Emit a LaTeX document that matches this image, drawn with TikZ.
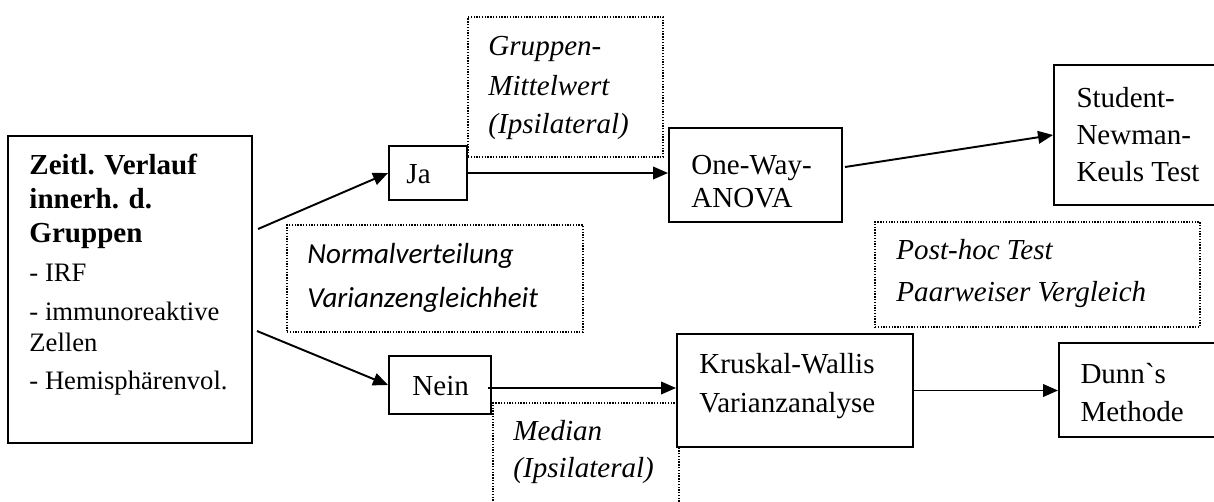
\documentclass[tikz,border=0pt]{standalone}
\usepackage{fontspec}
\setmainfont{Liberation Serif}
\newfontfamily\carl{Carlito}
\usetikzlibrary{fit,arrows.meta}
\begin{document}
\begin{tikzpicture}[x=0.4133pt,y=-0.4133pt,
  solidbox/.style={draw, line width=0.8pt, fill=white, inner sep=0pt},
  dotbox/.style={draw, line width=0.55pt, dash pattern=on 0.55pt off 0.6pt, inner sep=0pt},
  conn/.style={line width=0.8pt, -{Triangle[length=6.2pt,width=5.2pt]}},
  t/.style={anchor=base west, inner sep=0pt, font=\fontsize{12}{14}\selectfont},
  ts/.style={t, font=\fontsize{11}{13}\selectfont},
  ti/.style={t, font=\fontsize{12}{14}\selectfont\itshape},
  tc/.style={t, font=\fontsize{12}{14}\selectfont\carl\itshape},
  tb/.style={t, font=\fontsize{12}{14}\selectfont\bfseries}]
\useasboundingbox (0,0) rectangle (1214,501);
\clip (0,0) rectangle (1214,501);
% dotted boxes
\node[dotbox, fit={(468,17) (663,157)}] (dG) {};
\node[dotbox, fit={(287,225) (583,332)}] (dN) {};
\node[dotbox, fit={(875,222) (1200,327)}] (dP) {};
\node[dotbox, fit={(493,403) (679,530)}] (dM) {};
% solid boxes
\node[solidbox, fit={(8,136) (252,443)}] (L) {};
\node[solidbox, fit={(389,146) (467,200)}] (Ja) {};
\node[solidbox, fit={(389,356) (491,414)}] (Nein) {};
\node[solidbox, fit={(669,128) (842,222)}] (OW) {};
\node[solidbox, fit={(1054,65) (1240,205)}] (SNK) {};
\node[solidbox, fit={(677,334) (913,447)}] (KW) {};
\node[solidbox, fit={(1059,343) (1240,437)}] (DM) {};
% texts
\node[tb] (l1) at (29,174) {Zeitl. Verlauf};
\node[tb] (l2) at (29,208) {innerh. d.};
\node[tb] (l3) at (29,242) {Gruppen};
\node[ts] (l4) at (29,281) {- IRF};
\node[ts] (l5) at (29,320) {- immunoreaktive};
\node[ts] (l6) at (29,351) {Zellen};
\node[ts] (l7) at (29,389) {- Hemisphärenvol.};
\node[t] (ja) at (406,183) {Ja};
\node[t] (nein) at (412,395) {Nein};
\node[ti] (g1) at (488,55) {Gruppen-};
\node[ti] (g2) at (488,95) {Mittelwert};
\node[ti] (g3) at (488,133) {(Ipsilateral)};
\node[t] (o1) at (691,174) {One-Way-};
\node[t] (o2) at (691,207) {ANOVA};
\node[t] (s1t) at (1076,107) {Student-};
\node[t] (s2t) at (1076,144) {Newman-};
\node[t] (s3t) at (1076,181) {Keuls Test};
\node[tc] (n1) at (307,263) {Normalverteilung};
\node[tc] (n2) at (307,307) {Varianzengleichheit};
\node[ti] (p1) at (896,259) {Post-hoc Test};
\node[ti] (p2) at (896,301) {Paarweiser Vergleich};
\node[t] (k1) at (699,373) {Kruskal-Wallis};
\node[t] (k2) at (699,412) {Varianzanalyse};
\node[t] (d1) at (1080,383) {Dunn\textasciigrave s};
\node[t] (d2) at (1080,421) {Methode};
\node[ti] (m1) at (513,440) {Median};
\node[ti] (m2) at (513,477) {(Ipsilateral)};
% connectors
\coordinate (c1) at (258,229);
\coordinate (c2) at (257,331);
\coordinate (c3) at (845,167);
\coordinate (c4) at (488,388);
\draw[conn] (c1) -- (Ja.west);
\draw[conn] (c2) -- (Nein.west);
\draw[conn] (Ja.east) -- (Ja.east -| OW.west);
\draw[conn] (c3) -- (SNK.west);
\draw[conn] (c4) -- (c4 -| KW.west);
\draw[conn] (KW.east) -- (KW.east -| DM.west);
\end{tikzpicture}
\end{document}
